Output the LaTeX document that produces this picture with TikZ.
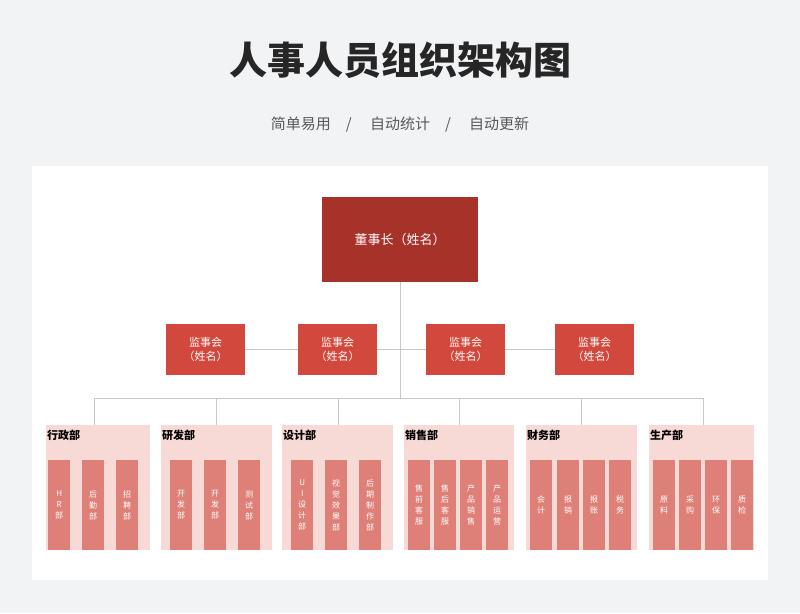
\documentclass[tikz,border=0pt]{standalone}
\usepackage{fontspec}
\setmainfont{Noto Sans CJK SC}
\usetikzlibrary{positioning}
\definecolor{bgc}{HTML}{F2F3F5}
\definecolor{topc}{HTML}{A6322A}
\definecolor{supc}{HTML}{D2483C}
\definecolor{deptc}{HTML}{F7D9D6}
\definecolor{subc}{HTML}{DE8078}
\definecolor{linec}{HTML}{C8C8C8}
\tikzset{
  topbox/.style={fill=topc, text=white, minimum width=156pt, minimum height=85pt, font=\fontsize{13}{15}\selectfont},
  supbox/.style={fill=supc, text=white, minimum width=79pt, minimum height=51pt, align=center, font=\fontsize{11}{14}\selectfont},
  deptbox/.style={fill=deptc, anchor=north west, minimum height=125pt},
  subbox/.style={fill=subc, text=white, anchor=north west, minimum width=22pt, minimum height=90pt, inner sep=0pt, align=center, font=\fontsize{8}{11}\selectfont},
  conn/.style={draw=linec, line width=0.8pt}
}
\begin{document}
\begin{tikzpicture}[x=1pt, y=-1pt]
    \useasboundingbox[fill=bgc] (0,0) rectangle (800,613);
    \fill[white] (32,166) rectangle (768,580);

    % Title
    \node[font=\fontsize{38}{42}\selectfont\bfseries, text=black!85] (title) at (400,60) {人事人员组织架构图};
    \node[font=\fontsize{15}{18}\selectfont, text=black!65] (subtitle) at (400,125) {简单易用\quad / \quad 自动统计\quad / \quad 自动更新};

    % Chairman
    \node[topbox] (chair) at (400,239.5) {董事长（姓名）};

    % Supervisors
    \coordinate (hub) at (400,354);
    \coordinate (bus) at (400,398);
    \foreach \i/\x in {1/205.5, 2/337.5, 3/465.5, 4/594.5}
        \node[supbox] (sup\i) at (\x,349.5) {监事会\\（姓名）};
    \draw[conn] (chair.south) -- (bus);
    \draw[conn] (sup1.east) -- (sup2.west);
    \draw[conn] (sup2.east) -- (sup3.west);
    \draw[conn] (sup3.east) -- (sup4.west);

    % Departments
    \foreach \i/\x/\w/\drop/\name in {1/46/104/94/行政部, 2/161/111/216/研发部, 3/282/111/338/设计部,
                                    4/404/110/459/销售部, 5/526/111/581/财务部, 6/649/105/703/生产部} {
        \node[deptbox, minimum width=\w pt] (dept\i) at (\x,425) {};
        \node[anchor=west, font=\fontsize{11}{13}\selectfont\bfseries, inner sep=0pt] (dlabel\i) at (\x+1,435) {\name};
        \coordinate (top\i) at (\drop,425);
        \coordinate (knee\i) at (\drop,398);
        \draw[conn] (knee\i) -- (top\i);
    }
    \draw[conn] (knee1) -- (knee6);

    % Sub units
    \foreach \x/\t in {48/H\\R\\部, 82/后\\勤\\部, 116/招\\聘\\部,
                       170/开\\发\\部, 204/开\\发\\部, 238/测\\试\\部,
                       291/U\\I\\设\\计\\部, 325/视\\觉\\效\\果\\部, 359/后\\期\\制\\作\\部,
                       408/售\\前\\客\\服, 434/售\\后\\客\\服, 460/产\\品\\销\\售, 486/产\\品\\运\\营,
                       530/会\\计, 557/报\\销, 583/报\\账, 609/税\\务,
                       653/原\\料, 679/采\\购, 705/环\\保, 731/质\\检}
        \node[subbox] (sub\x) at (\x,460) {\t};
\end{tikzpicture}
\end{document}
